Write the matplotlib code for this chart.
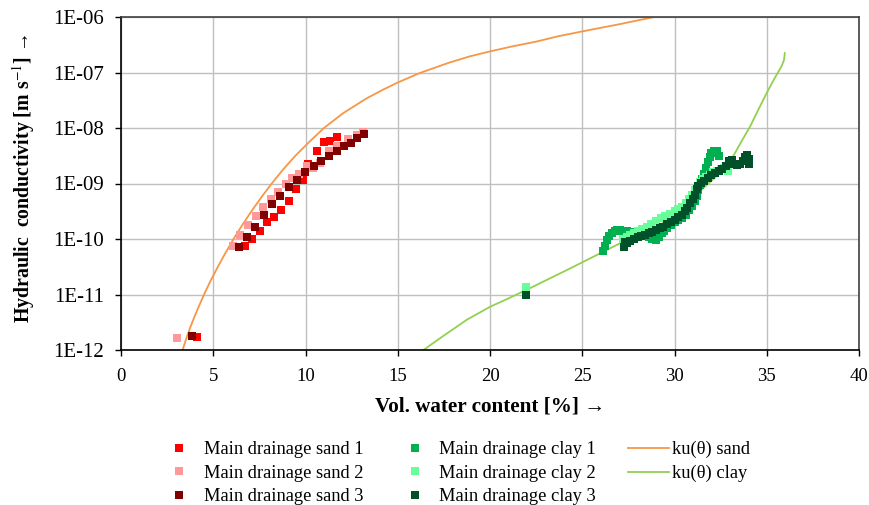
import matplotlib
matplotlib.use("Agg")
import matplotlib.pyplot as plt
from matplotlib.ticker import FixedLocator, FixedFormatter

plt.rcParams['font.family'] = ['Liberation Serif', 'DejaVu Serif']
plt.rcParams['mathtext.fontset'] = 'stix'

# ---- data ----
sand1_x = [4.12, 6.72, 7.12, 7.51, 7.89, 8.29, 8.67, 9.11, 9.50, 9.88, 10.15, 10.62, 11.0, 11.33, 11.71]
sand1_k = [1.7e-12, 7.6e-11, 1.0e-10, 1.41e-10, 2.0e-10, 2.5e-10, 3.3e-10, 4.8e-10, 7.8e-10, 1.17e-9,
           2.24e-9, 3.8e-9, 5.5e-9, 5.75e-9, 6.8e-9]

sand2_x = [3.02, 6.09, 6.45, 6.90, 7.32, 7.71, 8.11, 8.53, 8.93, 9.28, 9.64, 10.06, 10.42, 10.78,
           11.29, 11.69, 12.32, 12.77, 13.13]
sand2_k = [1.66e-12, 7.6e-11, 1.17e-10, 1.78e-10, 2.63e-10, 3.7e-10, 5.25e-10, 7.1e-10, 9.8e-10,
           1.26e-9, 1.51e-9, 2.09e-9, 1.9e-9, 2.34e-9, 3.8e-9, 4.7e-9, 6.3e-9, 7.6e-9, 8.5e-9]

sand3_x = [3.83, 6.38, 6.81, 7.26, 7.73, 8.18, 8.62, 9.09, 9.54, 9.99, 10.44, 10.84, 11.27, 11.72,
           12.10, 12.46, 12.81, 13.19]
sand3_k = [1.78e-12, 7.2e-11, 1.07e-10, 1.66e-10, 2.7e-10, 4.2e-10, 6.0e-10, 8.7e-10, 1.17e-9,
           1.58e-9, 2.09e-9, 2.57e-9, 3.16e-9, 3.9e-9, 4.8e-9, 5.4e-9, 6.6e-9, 7.8e-9]

clay1_x = [26.15, 26.25, 26.35, 26.45, 26.6, 26.75, 26.9, 27.05, 27.2, 27.4, 27.6, 27.8, 28.0, 28.2,
           28.4, 28.6, 28.8, 29.0, 29.15, 29.3, 29.45, 29.6, 29.8, 30.0, 30.2, 30.4, 30.6, 30.8,
           30.95, 31.1, 31.2, 31.3, 31.4, 31.5, 31.6, 31.7, 31.8, 31.9, 32.0, 32.15, 32.3, 32.4]
clay1_k = [6.0e-11, 7.6e-11, 9.5e-11, 1.12e-10, 1.26e-10, 1.38e-10, 1.45e-10, 1.45e-10, 1.41e-10,
           1.38e-10, 1.35e-10, 1.32e-10, 1.29e-10, 1.23e-10, 1.15e-10, 1.07e-10, 1.0e-10, 9.5e-11,
           1.07e-10, 1.26e-10, 1.41e-10, 1.58e-10, 1.78e-10, 2.0e-10, 2.19e-10, 2.4e-10, 2.75e-10,
           3.3e-10, 3.98e-10, 4.8e-10, 6.0e-10, 7.6e-10, 9.5e-10, 1.2e-9, 1.51e-9, 1.9e-9, 2.4e-9,
           3.0e-9, 3.55e-9, 3.8e-9, 3.8e-9, 3.16e-9]

clay2_x = [21.95, 27.2, 27.4, 27.6, 27.8, 28.0, 28.25, 28.5, 28.75, 29.0, 29.25, 29.5, 29.75, 30.0,
           30.2, 30.4, 30.6, 30.8, 30.95, 31.1, 31.25, 31.4, 31.55, 31.7, 31.9, 32.1, 32.3, 32.5,
           32.7, 32.9]
clay2_k = [1.35e-11, 1.0e-10, 1.07e-10, 1.17e-10, 1.26e-10, 1.38e-10, 1.51e-10, 1.66e-10, 1.86e-10,
           2.14e-10, 2.4e-10, 2.63e-10, 2.88e-10, 3.16e-10, 3.47e-10, 3.8e-10, 4.37e-10, 5.25e-10,
           6.3e-10, 7.6e-10, 9.1e-10, 1.07e-9, 1.2e-9, 1.32e-9, 1.45e-9, 1.58e-9, 1.7e-9, 1.82e-9,
           1.9e-9, 1.66e-9]

clay3_x = [21.95, 27.25, 27.3, 27.45, 27.6, 27.8, 28.0, 28.2, 28.4, 28.6, 28.8, 29.0, 29.2, 29.4,
           29.6, 29.8, 30.0, 30.2, 30.4, 30.55, 30.7, 30.85, 31.0, 31.1, 31.2, 31.3, 31.45, 31.6,
           31.8, 32.0, 32.2, 32.4, 32.6, 32.8, 32.95, 33.1, 33.25, 33.4, 33.55, 33.7, 33.8, 33.95,
           34.05, 34.05]
clay3_k = [1.0e-11, 7.2e-11, 8.9e-11, 8.3e-11, 9.1e-11, 1.0e-10, 1.07e-10, 1.15e-10, 1.2e-10,
           1.26e-10, 1.32e-10, 1.45e-10, 1.58e-10, 1.66e-10, 1.86e-10, 2.04e-10, 2.24e-10, 2.45e-10,
           2.69e-10, 3.16e-10, 3.63e-10, 4.37e-10, 5.25e-10, 6.3e-10, 7.8e-10, 9.1e-10, 1.02e-9,
           1.12e-9, 1.26e-9, 1.41e-9, 1.55e-9, 1.7e-9, 1.82e-9, 2.09e-9, 2.5e-9, 2.63e-9, 2.29e-9,
           2.19e-9, 2.29e-9, 2.5e-9, 3.0e-9, 3.3e-9, 2.75e-9, 2.29e-9]

ku_sand_x = [3.34, 3.58, 3.86, 4.17, 4.5, 4.86, 5.25, 5.66, 6.1, 6.57, 7.07, 7.6, 8.17, 8.78, 9.45,
             10.2, 11.0, 12.05, 13.3, 14.2, 15.0, 16.2, 17.8, 18.9, 20.0, 21.2, 22.5, 23.7, 25.0,
             27.0, 28.9]
ku_sand_k = [1.0e-12, 1.78e-12, 3.16e-12, 5.6e-12, 1.0e-11, 1.78e-11, 3.16e-11, 5.6e-11, 1.0e-10,
             1.78e-10, 3.16e-10, 5.6e-10, 1.0e-9, 1.78e-9, 3.16e-9, 5.6e-9, 1.0e-8, 1.86e-8, 3.4e-8,
             4.9e-8, 6.6e-8, 9.8e-8, 1.51e-7, 1.95e-7, 2.4e-7, 2.95e-7, 3.6e-7, 4.5e-7, 5.5e-7,
             7.4e-7, 1.0e-6]

ku_clay_x = [16.39, 17.5, 18.74, 20.0, 21.0, 21.95, 23.0, 24.16, 25.0, 25.96, 27.5, 29.0, 30.5,
             31.5, 32.5, 33.18, 33.6, 34.1, 34.5, 35.0, 35.4, 35.8, 35.93, 35.98]
ku_clay_k = [1.0e-12, 1.82e-12, 3.5e-12, 6.0e-12, 8.5e-12, 1.2e-11, 1.78e-11, 2.75e-11, 3.8e-11,
             5.5e-11, 1.0e-10, 1.66e-10, 3.16e-10, 7.9e-10, 1.58e-9, 3.1e-9, 5.5e-9, 1.07e-8,
             2.0e-8, 4.3e-8, 7.6e-8, 1.29e-7, 1.66e-7, 2.24e-7]

y_ticks = [1e-12, 1e-11, 1e-10, 1e-9, 1e-8, 1e-7, 1e-6]
y_tick_labels = ['1E-12', '1E-11', '1E-10', '1E-09', '1E-08', '1E-07', '1E-06']
x_ticks = [0, 5, 10, 15, 20, 25, 30, 35, 40]

# ---- figure ----
W, H = 869, 505
fig = plt.figure(figsize=(W / 100, H / 100), dpi=100)
ax = fig.add_axes([121 / W, 1 - 350 / H, (859 - 121) / W, (350 - 17) / H])

ax.set_yscale('log')
ax.set_xlim(0, 40)
ax.set_ylim(1e-12, 1e-6)

ax.yaxis.set_major_locator(FixedLocator(y_ticks))
ax.yaxis.set_major_formatter(FixedFormatter(y_tick_labels))
ax.yaxis.set_minor_locator(FixedLocator([]))
ax.set_xticks(x_ticks)

ax.grid(True, which='major', color='#BFBFBF', linewidth=1.0)
ax.set_axisbelow(True)

l1, = ax.plot(ku_sand_x, ku_sand_k, color='#F79646', lw=1.3, zorder=2, label='ku(θ) sand')
l2, = ax.plot(ku_clay_x, ku_clay_k, color='#92D050', lw=1.3, zorder=2, label='ku(θ) clay')

ms = 5.8
s1, = ax.plot(sand1_x, sand1_k, 's', color='#FF0000', ms=ms, mew=0, zorder=3, label='Main drainage sand 1')
s2, = ax.plot(sand2_x, sand2_k, 's', color='#FF9999', ms=ms, mew=0, zorder=3, label='Main drainage sand 2')
s3, = ax.plot(sand3_x, sand3_k, 's', color='#800000', ms=ms, mew=0, zorder=3, label='Main drainage sand 3')
c1, = ax.plot(clay1_x, clay1_k, 's', color='#00B050', ms=ms, mew=0, zorder=3, label='Main drainage clay 1')
c2, = ax.plot(clay2_x, clay2_k, 's', color='#66FF99', ms=ms, mew=0, zorder=3, label='Main drainage clay 2')
c3, = ax.plot(clay3_x, clay3_k, 's', color='#00502A', ms=ms, mew=0, zorder=3, label='Main drainage clay 3')

for side in ['left', 'bottom']:
    ax.spines[side].set_color('black')
    ax.spines[side].set_linewidth(1.2)
for side in ['top', 'right']:
    ax.spines[side].set_color('#404040')
    ax.spines[side].set_linewidth(1.2)

ax.tick_params(axis='both', direction='out', length=4.3, width=1, colors='black')
ax.tick_params(axis='x', labelsize=13.5, pad=8.5)
ax.tick_params(axis='y', labelsize=15, pad=7.9)

ax.set_xlabel('Vol. water content [%] →', fontsize=15.2, fontweight='bold')
ax.xaxis.set_label_coords(0.5, -(406 - 350) / 333)
ax.xaxis.label.set_verticalalignment('center')
ax.set_ylabel('Hydraulic  conductivity [m s$^{-1}$] →', fontsize=14.3, fontweight='bold')
ax.yaxis.set_label_coords((37 - 121) / 738, (350 - 179) / 333)

handles = [s1, s2, s3, c1, c2, c3, l1, l2]
fig.legend(handles=handles, labels=[h.get_label() for h in handles],
           loc='upper left', bbox_to_anchor=(158.8 / W, 1 - 441 / H), ncol=3, frameon=False,
           fontsize=13.3, handlelength=2.22, handletextpad=0.2, columnspacing=1.7,
           labelspacing=0.35, borderpad=0, borderaxespad=0, markerscale=0.9)

fig.savefig('out.png', dpi=100)
